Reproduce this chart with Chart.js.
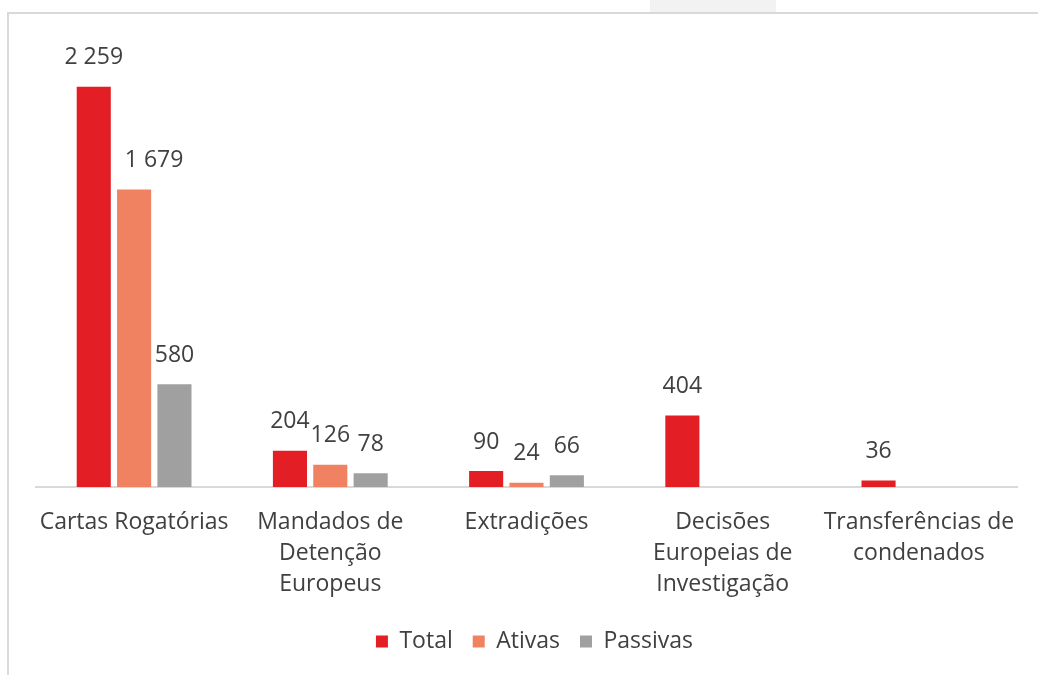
<!DOCTYPE html>
<html>
<head>
<meta charset="utf-8">
<script src="https://cdn.jsdelivr.net/npm/chart.js@4.4.1/dist/chart.umd.min.js"></script>
<style>
  html, body { margin: 0; padding: 0; background: #fff; overflow: hidden; }
  #frame { position: absolute; left: 7px; top: 12px; width: 1031px; height: 663px;
           border-left: 2px solid #d9d9d9; border-top: 2px solid #d9d9d9; }
  #tab { position: absolute; left: 650px; top: 0; width: 126px; height: 12px; background: #f2f2f2; }
  #wrap { position: absolute; left: 0; top: 0; width: 1038px; height: 675px; }
</style>
</head>
<body>
<div id="tab"></div>
<div id="frame"></div>
<div id="wrap"><canvas id="chart"></canvas></div>
<script>
const categories = [
  ["Cartas Rogatórias"],
  ["Mandados de", "Detenção", "Europeus"],
  ["Extradições"],
  ["Decisões", "Europeias de", "Investigação"],
  ["Transferências de", "condenados"]
];
const total = [2259, 204, 90, 404, 36];
const ativas = [1679, 126, 24, null, null];
const passivas = [580, 78, 66, null, null];

const textColor = "#404040";
const fontFamily = "'Open Sans', 'DejaVu Sans', sans-serif";

function fmt(v) {
  return String(v).replace(/\B(?=(\d{3})+(?!\d))/g, " ");
}

// value labels above each bar, nudged right when they would run into the taller bar on the left
const barLabels = {
  id: "barLabels",
  afterLayout(chart) {
    // legend sits a little right of centre in the original
    chart.legend.left += 8;
    chart.legend.right += 8;
  },
  afterDatasetsDraw(chart) {
    const ctx = chart.ctx;
    ctx.save();
    ctx.font = "23px " + fontFamily;
    ctx.fillStyle = textColor;
    ctx.textAlign = "center";
    ctx.textBaseline = "middle";
    chart.data.datasets.forEach((ds, di) => {
      const meta = chart.getDatasetMeta(di);
      meta.data.forEach((bar, i) => {
        const v = ds.data[i];
        if (v == null) return;
        const txt = fmt(v);
        const w = ctx.measureText(txt).width;
        let x = bar.x;
        const y = bar.y - 29;
        if (di > 0) {
          const prev = chart.getDatasetMeta(di - 1).data[i];
          const prevRight = prev.x + prev.width / 2;
          if (prev.y < y + 11 && x - w / 2 < prevRight + 2) {
            x = prevRight + 14 + w / 2;
          }
        }
        ctx.fillText(txt, x, y);
      });
    });
    ctx.restore();
  }
};

new Chart(document.getElementById("chart"), {
  type: "bar",
  data: {
    labels: categories,
    datasets: [
      { label: "Total", data: total, backgroundColor: "#e31e24" },
      { label: "Ativas", data: ativas, backgroundColor: "#f08262" },
      { label: "Passivas", data: passivas, backgroundColor: "#a0a0a0" }
    ]
  },
  options: {
    responsive: true,
    maintainAspectRatio: false,
    animation: false,
    categoryPercentage: 0.617,
    barPercentage: 0.845,
    layout: { padding: { left: 36, right: 21, top: 44, bottom: 12 } },
    scales: {
      x: {
        grid: { display: false, drawTicks: false },
        border: { display: true, color: "#d9d9d9", width: 2 },
        ticks: {
          color: textColor,
          padding: 20,
          maxRotation: 0,
          autoSkip: false,
          font: { family: fontFamily, size: 23, lineHeight: "31px" }
        },
        afterFit(scale) { scale.height -= 10; }
      },
      y: {
        display: false,
        min: 0,
        max: 2500
      }
    },
    plugins: {
      legend: {
        position: "bottom",
        labels: {
          color: textColor,
          boxWidth: 12,
          boxHeight: 12,
          padding: 20,
          font: { family: fontFamily, size: 23 }
        }
      },
      tooltip: { enabled: false }
    }
  },
  plugins: [barLabels]
});
</script>
</body>
</html>
